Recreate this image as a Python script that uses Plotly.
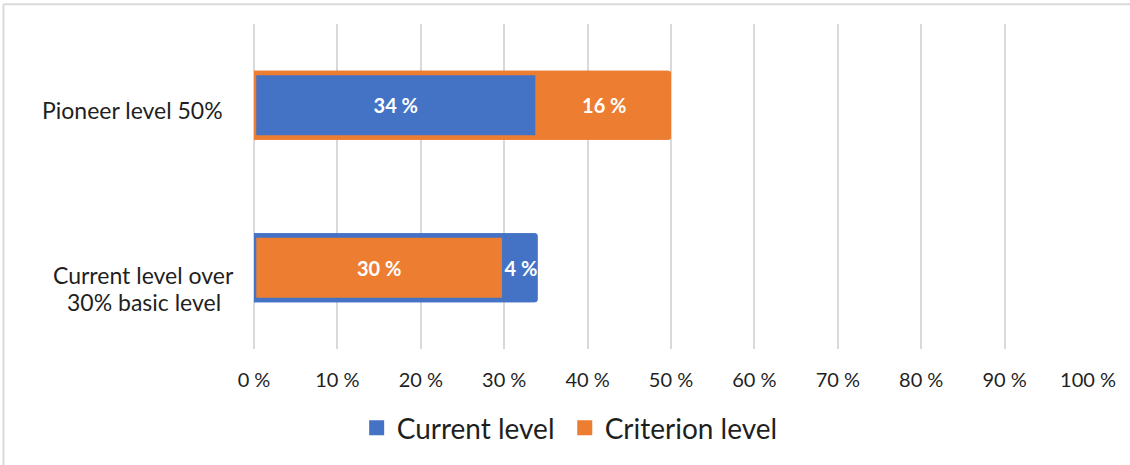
import plotly.graph_objects as go

# Categories, top row first
categories = ["Pioneer level 50%", "Current level over 30% basic level"]
# Wrapped category labels, one entry per printed line
category_lines = [["Pioneer level 50%"], ["Current level over", "30% basic level"]]

# Series values (percent)
current_level = [34, 4]
criterion_level = [16, 30]

# Which series forms the first (left) segment of each row
first_series = ["current", "criterion"]

tick_vals = [0, 10, 20, 30, 40, 50, 60, 70, 80, 90, 100]
tick_text = ["0 %", "10 %", "20 %", "30 %", "40 %", "50 %", "60 %", "70 %", "80 %", "90 %", "100 %"]

BLUE = "#4472C4"
ORANGE = "#ED7D31"
FONT = "Lato"
TEXT = "#1f1f1f"

series = {
    "current": (current_level, BLUE, "Current level"),
    "criterion": (criterion_level, ORANGE, "Criterion level"),
}

first_vals, first_cols, second_vals, second_cols = [], [], [], []
for i, key in enumerate(first_series):
    other = "criterion" if key == "current" else "current"
    first_vals.append(series[key][0][i])
    first_cols.append(series[key][1])
    second_vals.append(series[other][0][i])
    second_cols.append(series[other][1])
totals = [a + b for a, b in zip(first_vals, second_vals)]

label_font = dict(family=FONT, size=20, color="white", weight="bold")

fig = go.Figure()

# Underlay in the second segment colour, spanning the whole row
fig.add_trace(go.Bar(
    y=categories, x=totals, orientation="h", width=0.4255,
    marker=dict(color=second_cols, line=dict(width=0)),
    showlegend=False, hoverinfo="skip",
))

# First segment, slightly narrower, outlined in the underlay colour
fig.add_trace(go.Bar(
    y=categories, x=first_vals, orientation="h", width=0.398,
    marker=dict(color=first_cols, line=dict(color=second_cols, width=4.5)),
    text=[f"{v} %" for v in first_vals], textposition="inside", textangle=0,
    insidetextanchor="middle", constraintext="none", textfont=label_font,
    showlegend=False,
))

# Second segment stacked after the first one
fig.add_trace(go.Bar(
    y=categories, x=second_vals, base=first_vals, orientation="h", width=0.4255,
    marker=dict(color=second_cols, line=dict(width=0)),
    text=[f"{v} %" for v in second_vals], textposition="inside", textangle=0,
    insidetextanchor="middle", constraintext="none", textfont=label_font,
    showlegend=False,
))

# Legend entries, each in its own legend box so the spacing can be set
for key, leg in [("current", "legend"), ("criterion", "legend2")]:
    _, col, name = series[key]
    fig.add_trace(go.Scatter(
        x=[None], y=[None], mode="markers", name=name, legend=leg,
        marker=dict(symbol="square", size=15, color=col),
    ))

# Category labels, each line centred within its block
label_x = [-0.0348, -0.1319]
label_anchor = ["right", "center"]
label_shift = [-5, -7.5]
line_gap = 27
for cat, lines, lx, la, ls in zip(categories, category_lines, label_x, label_anchor, label_shift):
    for j, line in enumerate(lines):
        fig.add_annotation(
            x=lx, xref="paper", y=cat, yref="y", text=line, showarrow=False,
            xanchor=la, yanchor="middle", align="center", yshift=ls - j * line_gap,
            font=dict(family=FONT, size=23, color=TEXT),
        )

# Chart frame
fig.add_shape(type="line", xref="paper", yref="paper",
              x0=-0.3004, x1=1.2, y0=1.0608, y1=1.0608,
              line=dict(color="#d9d9d9", width=2))
fig.add_shape(type="line", xref="paper", yref="paper",
              x0=-0.3004, x1=-0.3004, y0=1.0608, y1=-0.4,
              line=dict(color="#d9d9d9", width=2))

legend_style = dict(orientation="h", xanchor="left", y=-0.243, yanchor="middle",
                    font=dict(family=FONT, size=28, color=TEXT), itemwidth=30,
                    bgcolor="rgba(0,0,0,0)")

fig.update_layout(
    width=1130, height=465,
    margin=dict(l=254, r=42, t=24, b=112),
    barmode="overlay",
    barcornerradius=3,
    plot_bgcolor="white", paper_bgcolor="white",
    font=dict(family=FONT, color=TEXT),
    legend=dict(x=0.1231, **legend_style),
    legend2=dict(x=0.3726, **legend_style),
    xaxis=dict(range=[0, 100], tickvals=tick_vals, ticktext=tick_text,
               showgrid=True, gridcolor="#d9d9d9", gridwidth=2,
               zeroline=True, zerolinecolor="#d9d9d9", zerolinewidth=2,
               showline=False, ticks="outside", ticklen=13, tickcolor="rgba(0,0,0,0)",
               tickfont=dict(family=FONT, size=20, color=TEXT), fixedrange=True),
    yaxis=dict(categoryorder="array", categoryarray=categories, autorange="reversed",
               showticklabels=False, showgrid=False, zeroline=False, showline=False,
               fixedrange=True),
)

fig.write_html("out.html")
